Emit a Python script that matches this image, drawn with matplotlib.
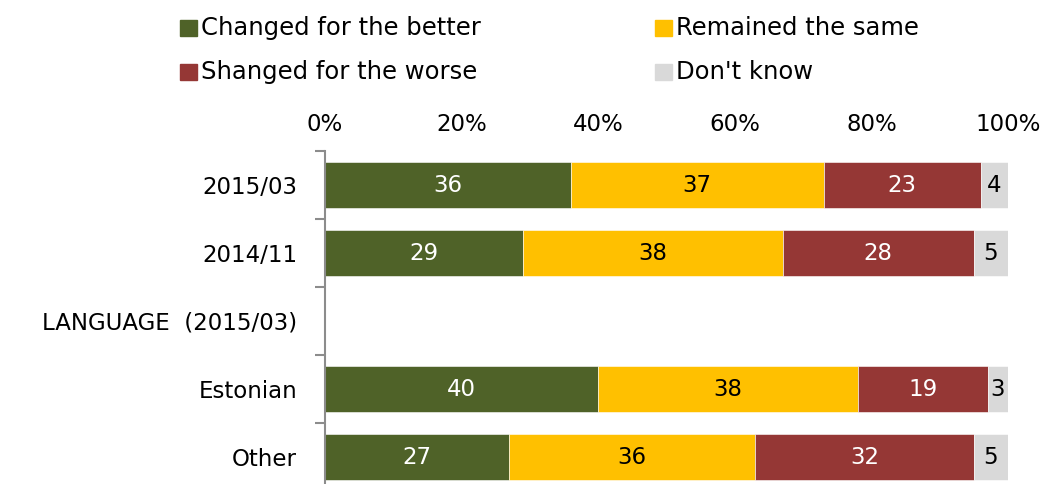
import matplotlib
matplotlib.use("Agg")
import matplotlib.pyplot as plt
from matplotlib.patches import Rectangle
import numpy as np

plt.rcParams['font.family'] = ['DejaVu Sans']

categories = ["2015/03", "2014/11", "LANGUAGE  (2015/03)", "Estonian", "Other"]
series_names = ["Changed for the better", "Remained the same",
                "Shanged for the worse", "Don't know"]
better = [36, 29, None, 40, 27]
same = [37, 38, None, 38, 36]
worse = [23, 28, None, 19, 32]
dont_know = [4, 5, None, 3, 5]
x_ticks = [0, 20, 40, 60, 80, 100]

colors = ["#4F6228", "#FFC000", "#953735", "#D9D9D9"]
text_colors = ["white", "black", "white", "black"]

FS = 16.5
W, H = 1044, 484
fig = plt.figure(figsize=(W / 100, H / 100), dpi=100)
ax = fig.add_axes([325 / W, (H - 491) / H, (1008 - 325) / W, (491 - 151) / H])

series = [better, same, worse, dont_know]
y = np.arange(len(categories))
left = np.zeros(len(categories))
for vals, col, tcol in zip(series, colors, text_colors):
    v = np.array([np.nan if a is None else a for a in vals], dtype=float)
    ax.barh(y, np.nan_to_num(v), left=left, height=0.68, color=col,
            edgecolor="white", linewidth=0.4)
    for yi, (val, l) in enumerate(zip(v, left)):
        if not np.isnan(val):
            ax.text(l + val / 2, yi, f"{int(val)}", ha="center", va="center",
                    color=tcol, fontsize=FS)
    left = left + np.nan_to_num(v)

ax.set_xlim(0, 100)
ax.set_ylim(len(categories) - 0.5, -0.5)
ax.xaxis.tick_top()
ax.set_xticks(x_ticks)
ax.set_xticklabels([f"{t}%" for t in x_ticks], fontsize=FS)
ax.tick_params(axis="x", length=0, pad=11)

ax.set_yticks(y)
ax.set_yticklabels(categories, fontsize=FS)
ax.tick_params(axis="y", which="major", length=0, pad=20)
ax.set_yticks(np.arange(-0.5, len(categories) + 0.5, 1), minor=True)
ax.tick_params(axis="y", which="minor", length=7, width=1.5, color="#8C8C8C",
               direction="out")

for s in ["top", "right", "bottom"]:
    ax.spines[s].set_visible(False)
ax.spines["left"].set_color("#8C8C8C")
ax.spines["left"].set_linewidth(1.5)

# legend, two rows by two columns
legend_pos = [(180, 28), (655, 28), (180, 72), (655, 72)]
for (lx, ly), name, col in zip(legend_pos, series_names, colors):
    fig.patches.append(Rectangle((lx / W, (H - ly - 8) / H), 17 / W, 16 / H,
                                 transform=fig.transFigure, color=col))
    fig.text((lx + 21) / W, (H - ly) / H, name, fontsize=17.5,
             va="center", ha="left")

fig.savefig("out.png", dpi=100)
